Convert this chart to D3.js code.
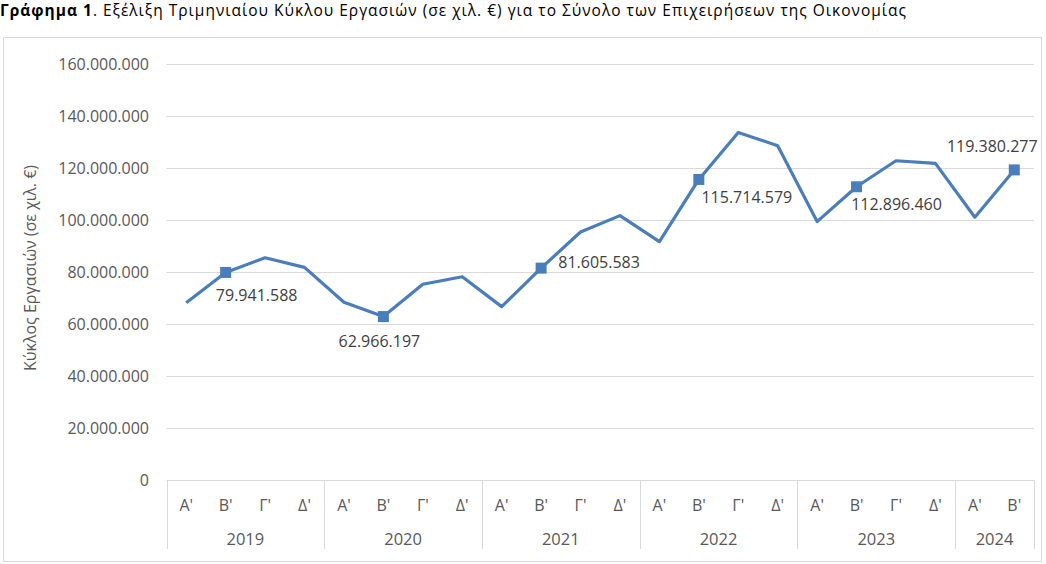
<!DOCTYPE html>
<html>
<head>
<meta charset="utf-8">
<script src="https://cdn.jsdelivr.net/npm/d3@7"></script>
<style>
  body { margin: 0; background: #fff; }
  svg { display: block; font-family: "Open Sans", sans-serif; }
</style>
</head>
<body>
<div id="chart"></div>
<script>
// Quarterly turnover (thousand €), total economy
const years = ["2019", "2020", "2021", "2022", "2023", "2024"];
const quartersPerYear = [4, 4, 4, 4, 4, 2];
const quarterNames = ["Α'", "Β'", "Γ'", "Δ'"];
const values = [
  68300000, 79941588, 85600000, 81900000,
  68500000, 62966197, 75400000, 78300000,
  66800000, 81605583, 95500000, 101800000,
  91800000, 115714579, 133800000, 128700000,
  99500000, 112896460, 122900000, 121900000,
  101200000, 119380277
];
// indices of points that carry a marker + value label
const labelled = [1, 5, 9, 13, 17, 21];
const yTicks = [0, 20000000, 40000000, 60000000, 80000000, 100000000, 120000000, 140000000, 160000000];

// 1) Build category list
const cats = [];
years.forEach((yr, i) => {
  for (let q = 0; q < quartersPerYear[i]; q++) {
    cats.push({ id: `${yr}-${q}`, year: yr, quarter: quarterNames[q], value: values[cats.length] });
  }
});

// 2) Canvas
const W = 1046, H = 564;
const svg = d3.select("#chart").append("svg")
  .attr("width", W).attr("height", H);

// title
const title = svg.append("text")
  .attr("x", 0).attr("y", 16)
  .attr("textLength", 906)
  .attr("lengthAdjust", "spacing")
  .style("font-size", "15.5px").attr("fill", "#000");
title.append("tspan").style("font-weight", "bold").text("Γράφημα 1");
title.append("tspan").text(". Εξέλιξη Τριμηνιαίου Κύκλου Εργασιών (σε χιλ. €) για το Σύνολο των Επιχειρήσεων της Οικονομίας");

// outer chart border
svg.append("rect")
  .attr("x", 3.5).attr("y", 37.5)
  .attr("width", 1038).attr("height", 524)
  .attr("fill", "none").attr("stroke", "#d9d9d9");

// 3) Scales
const x = d3.scaleBand()
  .domain(cats.map(d => d.id))
  .range([166.5, 1034])
  .padding(0);

const y = d3.scaleLinear()
  .domain([0, 160000000])
  .range([480.3, 64.3]);

const fmt = v => d3.format(",")(v).replace(/,/g, ".");

// 4) Gridlines + y labels
svg.append("g")
  .selectAll("line")
  .data(yTicks.filter(t => t > 0))
  .join("line")
    .attr("x1", x.range()[0]).attr("x2", x.range()[1])
    .attr("y1", d => Math.round(y(d)) + 0.5).attr("y2", d => Math.round(y(d)) + 0.5)
    .attr("stroke", "#d9d9d9");

svg.append("g")
  .selectAll("text")
  .data(yTicks)
  .join("text")
    .attr("x", 149)
    .attr("y", d => y(d) + 6)
    .attr("text-anchor", "end")
    .style("font-size", "16px")
    .attr("fill", "#595959")
    .text(d => fmt(d));

svg.append("text")
  .attr("transform", "rotate(-90)")
  .attr("x", -268).attr("y", 36)
  .attr("text-anchor", "middle")
  .style("font-size", "16px")
  .attr("fill", "#595959")
  .text("Κύκλος Εργασιών (σε χιλ. €)");

// 5) Category axis (two-level)
const axisG = svg.append("g");
axisG.append("line")
  .attr("x1", x.range()[0]).attr("x2", x.range()[1])
  .attr("y1", 480.5).attr("y2", 480.5)
  .attr("stroke", "#d9d9d9");

axisG.selectAll("text.q")
  .data(cats)
  .join("text")
    .attr("class", "q")
    .attr("x", d => x(d.id) + x.bandwidth() / 2)
    .attr("y", 511)
    .attr("text-anchor", "middle")
    .style("font-size", "16px")
    .attr("fill", "#595959")
    .text(d => d.quarter);

// year groups
let start = 0;
const groups = years.map((yr, i) => {
  const g = { year: yr, first: cats[start].id, last: cats[start + quartersPerYear[i] - 1].id };
  start += quartersPerYear[i];
  return g;
});

const bounds = groups.map(g => x(g.first)).concat([x.range()[1]]);
axisG.selectAll("line.sep")
  .data(bounds)
  .join("line")
    .attr("class", "sep")
    .attr("x1", d => Math.round(d) + 0.5).attr("x2", d => Math.round(d) + 0.5)
    .attr("y1", 480.5).attr("y2", 549)
    .attr("stroke", "#d9d9d9");

axisG.selectAll("text.yr")
  .data(groups)
  .join("text")
    .attr("class", "yr")
    .attr("x", d => (x(d.first) + x(d.last) + x.bandwidth()) / 2)
    .attr("y", 545)
    .attr("text-anchor", "middle")
    .style("font-size", "16.5px")
    .attr("fill", "#595959")
    .text(d => d.year);

// 6) Line
const cx = d => x(d.id) + x.bandwidth() / 2;
svg.append("path")
  .datum(cats)
  .attr("fill", "none")
  .attr("stroke", "#4a7ebb")
  .attr("stroke-width", 3.2)
  .attr("stroke-linejoin", "round")
  .attr("d", d3.line().x(cx).y(d => y(d.value)));

// 7) Markers and labels
const marked = labelled.map(i => cats[i]);
svg.selectAll("rect.mk")
  .data(marked)
  .join("rect")
    .attr("class", "mk")
    .attr("x", d => cx(d) - 5.5).attr("y", d => y(d.value) - 5.5)
    .attr("width", 11).attr("height", 11)
    .attr("fill", "#4a7ebb");

// label offsets relative to the marker (dx = text centre, dy = baseline)
const labelOffsets = [[31, 29], [-4, 30], [58, 0], [48, 24], [40, 23], [-22, -18]];
svg.selectAll("text.lbl")
  .data(marked)
  .join("text")
    .attr("class", "lbl")
    .attr("x", (d, i) => cx(d) + labelOffsets[i][0])
    .attr("y", (d, i) => y(d.value) + labelOffsets[i][1])
    .attr("text-anchor", "middle")
    .style("font-size", "16px")
    .attr("fill", "#404040")
    .text(d => fmt(d.value));
</script>
</body>
</html>
